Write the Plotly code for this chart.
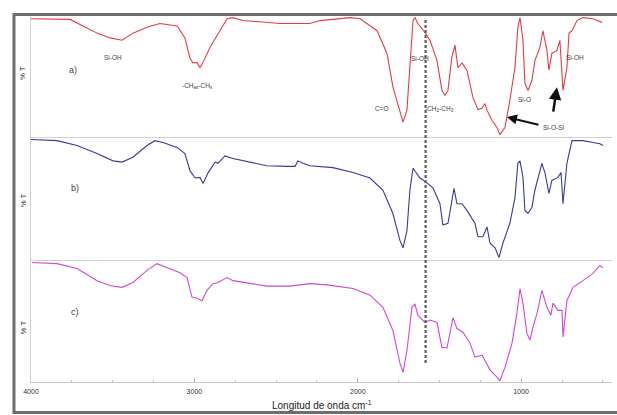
import plotly.graph_objects as go
from plotly.subplots import make_subplots

# ---- data ----
wn_a = [4000, 3761, 3682, 3596, 3517, 3443, 3376, 3290, 3211, 3106, 3058, 3027, 3009, 2984, 2966,
        2947, 2905, 2862, 2843, 2800, 2764, 2703, 2600, 2476, 2293, 2231, 2048, 1986, 1882, 1821,
        1785, 1742, 1723, 1699, 1681, 1662, 1650, 1632, 1589, 1558, 1515, 1485, 1466, 1448, 1424,
        1405, 1387, 1362, 1332, 1295, 1264, 1240, 1222, 1209, 1179, 1148, 1130, 1099, 1069, 1038,
        1020, 1007, 989, 977, 958, 934, 916, 885, 867, 842, 830, 812, 781, 763, 744, 720, 707,
        689, 658, 622, 561, 505]
t_a = [99, 98.5, 93, 87, 83, 81, 87, 92, 95, 93, 83, 66, 62, 62.5, 58,
       62.5, 75, 85, 89, 99, 100, 97.5, 96.5, 95, 95, 97.5, 100, 99, 89, 70,
       42, 20, 12.5, 22.5, 58, 97.5, 100, 95, 87.5, 81, 64, 39, 35, 39, 67,
       77, 58, 62, 56, 33, 23, 24, 28, 22.5, 14, 8, 2, 8, 31, 58,
       92, 100, 81, 45, 39, 47.5, 64, 75, 89, 72.5, 56, 70, 72.5, 81, 39, 58, 87,
       89, 97.5, 100, 99, 96]

wn_b = [4000, 3841, 3718, 3596, 3498, 3443, 3376, 3290, 3241, 3192, 3106, 3058, 3027, 2996, 2966,
        2947, 2917, 2874, 2856, 2813, 2764, 2660, 2556, 2433, 2384, 2366, 2335, 2293, 2152, 2029,
        1925, 1846, 1785, 1742, 1723, 1699, 1681, 1662, 1638, 1619, 1576, 1540, 1497, 1479, 1448,
        1424, 1411, 1393, 1362, 1332, 1283, 1264, 1234, 1209, 1191, 1160, 1136, 1111, 1069, 1038,
        1020, 1007, 989, 977, 958, 934, 916, 873, 854, 830, 812, 775, 756, 744, 720, 689,
        622, 561, 518, 499]
t_b = [98.5, 97.5, 93.5, 87, 81, 80, 84, 93.5, 97.5, 96, 92, 87, 73, 67, 67.5,
       62.5, 71, 80, 79, 85, 83, 80, 77, 76.5, 76.5, 81, 79, 77, 75.5, 71.5,
       67, 57, 38, 16, 10, 24, 57, 75, 71, 67, 63, 59, 46, 28.5, 30,
       49, 58.5, 46, 46, 40.5, 30, 19, 19, 27, 14, 10, 2, 14, 30, 51,
       79, 81, 67.5, 40.5, 38, 43, 57, 79, 71, 54.5, 65, 67.5, 71.5, 46, 79, 97.5,
       97.5, 96, 95, 93.5]

wn_c = [3994, 3841, 3718, 3596, 3517, 3443, 3376, 3290, 3229, 3168, 3088, 3045, 3015, 2984, 2953,
        2923, 2886, 2856, 2800, 2764, 2660, 2556, 2415, 2354, 2293, 2188, 2029, 1925, 1846, 1785,
        1742, 1723, 1699, 1668, 1650, 1632, 1589, 1558, 1515, 1485, 1454, 1417, 1393, 1356, 1313,
        1283, 1240, 1222, 1191, 1148, 1130, 1099, 1056, 1026, 1007, 989, 965, 946, 928, 903,
        873, 842, 818, 805, 775, 750, 744, 720, 683, 622, 561, 518, 499]
t_c = [98.5, 97.5, 93.5, 83.5, 79.5, 78, 82, 92, 97.5, 94, 90, 86, 70, 69, 67,
       75.5, 81, 82, 86, 83.5, 81, 79, 79, 80, 81, 80, 77, 71.5, 61.5, 42.5,
       15.5, 8, 26, 62, 64, 55, 49, 51, 49, 28.5, 28, 53, 44, 41, 32,
       20.5, 22, 18, 10, 4, 1, 12, 32, 56.5, 77, 65, 40, 34.5, 45, 56.5,
       75.5, 61.5, 55, 65, 59, 59, 37, 67, 78, 83.5, 89.5, 96, 94]

tick_vals = [4000, 3000, 2000, 1000]
tick_text = ["4000", "3000", "2000", "1000"]
marker_wn = 1585

colors = ["#e23c48", "#383c8c", "#d048d0"]
FONT = "Liberation Sans, Arial, sans-serif"

fig = make_subplots(rows=3, cols=1, shared_xaxes=True, vertical_spacing=0)
fig.add_trace(go.Scatter(x=wn_a, y=t_a, mode="lines", line=dict(color=colors[0], width=1.1),
                         showlegend=False), row=1, col=1)
fig.add_trace(go.Scatter(x=wn_b, y=t_b, mode="lines", line=dict(color=colors[1], width=1.1),
                         showlegend=False), row=2, col=1)
fig.add_trace(go.Scatter(x=wn_c, y=t_c, mode="lines", line=dict(color=colors[2], width=1.1),
                         showlegend=False), row=3, col=1)

H = 365.0
dom_c = [0, 122 / H]
dom_b = [122 / H, 245 / H]
dom_a = [245 / H, 1]

axis_common = dict(showgrid=False, zeroline=False)
fig.update_layout(
    width=617, height=415,
    margin=dict(l=31, r=5, t=17, b=33),
    paper_bgcolor="white", plot_bgcolor="white",
    font=dict(family=FONT, color="#333"),
    yaxis=dict(domain=dom_a, range=[0, 100.5], showticklabels=False, ticks="",
               showline=True, linecolor="#cfcfcf", linewidth=1, **axis_common),
    yaxis2=dict(domain=dom_b, range=[0, 100.5], showticklabels=False, ticks="",
                showline=True, linecolor="#cfcfcf", linewidth=1, **axis_common),
    yaxis3=dict(domain=dom_c, range=[0, 100.5], showticklabels=False, ticks="",
                showline=True, linecolor="#cfcfcf", linewidth=1, **axis_common),
    xaxis=dict(range=[4000, 444], showticklabels=False, ticks="", showline=True,
               linecolor="#d0d0d0", linewidth=1, **axis_common),
    xaxis2=dict(range=[4000, 444], showticklabels=False, ticks="", showline=True,
                linecolor="#d0d0d0", linewidth=1, **axis_common),
    xaxis3=dict(range=[4000, 444], tickvals=tick_vals, ticktext=tick_text,
                ticks="inside", ticklen=3, tickcolor="#aaa", ticklabelstandoff=3,
                minor=dict(dtick=250, ticks="inside", ticklen=2, tickcolor="#bbb"),
                tickfont=dict(size=7, color="#333", family=FONT),
                showline=True, linecolor="#c8c8c8", linewidth=1, **axis_common),
)

# outer frame
fig.add_shape(type="rect", xref="paper", yref="paper", x0=-0.0293, x1=1.03,
              y0=-0.0836, y1=1.0068, line=dict(color="#6e6e6e", width=3), layer="above")
# dashed marker line
fig.add_shape(type="line", xref="x3", yref="paper", x0=marker_wn, x1=marker_wn,
              y0=0.052, y1=0.992, line=dict(color="#5f5f5f", width=2.2, dash="3px,2px"))

ann = []
def txt(x, y, s, size=6.5, xref="x", yref="y", color="#444"):
    ann.append(dict(x=x, y=y, xref=xref, yref=yref, text=s, showarrow=False,
                    xanchor="center", yanchor="middle",
                    font=dict(size=size, color=color, family=FONT)))

txt(3498, 66.6, "Si-OH")
txt(2984, 42.5, "-CH<sub>as</sub>-CH<sub>s</sub>")
txt(3743, 56, "a)", size=9)
txt(1619, 65.8, "Si-OH")
txt(1852, 24, "C=O")
txt(1497, 23.3, "-CH<sub>2</sub>-CH<sub>3</sub>")
txt(977, 31, "Si-O")
txt(671, 66.6, "Si-OH")
txt(805, 8.3, "Si-O-Si")
txt(3731, 58.5, "b)", size=9, xref="x2", yref="y2")
txt(3731, 57.4, "c)", size=9, xref="x3", yref="y3")

for yy in [0.847, 0.4986, 0.15]:
    ann.append(dict(x=-0.0138, y=yy, xref="paper", yref="paper", text="% T", showarrow=False,
                    xanchor="center", yanchor="middle",
                    textangle=-90, font=dict(size=7.5, color="#333", family=FONT)))

ann.append(dict(x=0.5, y=-0.063, xref="paper", yref="paper",
                xanchor="center", yanchor="middle",
                text="Longitud de onda cm<sup>-1</sup>", showarrow=False,
                font=dict(size=10, color="#222", family=FONT)))

# arrows
ann.append(dict(x=1087, y=16.7, ax=885, ay=10, xref="x", yref="y", axref="x", ayref="y",
                text="", showarrow=True, arrowhead=2, arrowsize=1, arrowwidth=2, arrowcolor="#111"))
ann.append(dict(x=781, y=41.7, ax=805, ay=20, xref="x", yref="y", axref="x", ayref="y",
                text="", showarrow=True, arrowhead=2, arrowsize=1, arrowwidth=2.5, arrowcolor="#111"))

fig.update_layout(annotations=ann)
fig.write_html("out.html")
